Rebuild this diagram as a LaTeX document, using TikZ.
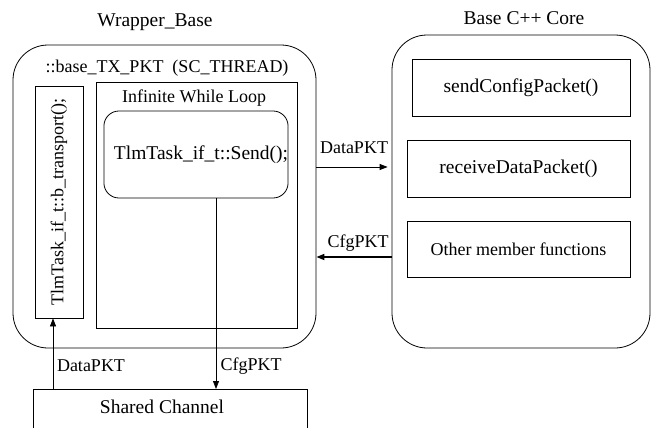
\documentclass[tikz,border=0pt]{standalone}
\usepackage{fontspec}
\setmainfont{Liberation Serif}
\usetikzlibrary{arrows.meta}
\begin{document}
\begin{tikzpicture}[
    x=1pt, y=-1pt,
    module/.style={
        rectangle,
        draw,
        rounded corners=35pt,
        line width=0.8pt
    },
    block/.style={
        rectangle,
        draw,
        line width=0.8pt,
        inner sep=0pt,
        align=center,
        font=\fontsize{18}{21}\selectfont
    },
    title/.style={
        font=\fontsize{19.5}{23}\selectfont
    },
    tag/.style={
        font=\fontsize{18}{21}\selectfont
    },
    arrow/.style={
        -{Triangle[length=8pt,width=6pt]},
        line width=0.8pt
    }
]

\clip (0,0) rectangle (656,428);

% Wrapper
\node[module, minimum width=303, minimum height=303] (wrapper) at (164.5,196.5) {};
\node[title] (wraptitle) at (155,22) {Wrapper\_Base};
\node[tag] (thread) at (167,68) {::base\_TX\_PKT\ \ (SC\_THREAD)};

% Trasporto
\node[block, minimum width=48, minimum height=232] (transport) at (59,202) {\rotatebox{90}{TlmTask\_if\_t::b\_transport();}};

% Ciclo
\node[block, minimum width=201, minimum height=246] (loop) at (196.5,205) {};
\node[tag] (looptitle) at (194,98) {Infinite While Loop};
\node[block, title, rounded corners=15pt, minimum width=182, minimum height=87] (send) at (196,154.5) {\hspace*{10pt}TlmTask\_if\_t::Send();};

% Canale
\node[block, minimum width=274, minimum height=60, anchor=north west] (channel) at (33,389) {};
\node[title] (channeltext) at (162,407) {Shared Channel};

% Core
\node[module, minimum width=258, minimum height=313] (core) at (521,191.5) {};
\node[title] (coretitle) at (524,18) {Base C++ Core};
\node[block, title, minimum width=218, minimum height=57] (sendcfg) at (521,87.5) {sendConfigPacket()};
\node[block, title, minimum width=223, minimum height=57] (recvdata) at (518.5,168.5) {receiveDataPacket()};
\node[block, minimum width=223, minimum height=56] (others) at (518.5,249) {Other member functions};

% Frecce
\coordinate (dpin) at ([xshift=-6pt]transport.south);
\coordinate (cfgout) at ([xshift=20pt]send.south);
\coordinate (dataout) at ([yshift=29.5pt]wrapper.east);
\coordinate (cfgin) at ([yshift=-65.5pt]core.west);

\draw[arrow] (dpin |- channel.north) -- (dpin);
\draw[arrow] (cfgout) -- (cfgout |- channel.north);
\node[tag] (dataup) at (91,366) {DataPKT};
\node[tag] (cfgdown) at (251,366) {CfgPKT};

\draw[arrow, shorten >=4pt] (dataout) -- node[tag, above=10pt] {DataPKT} (dataout -| core.west);
\draw[arrow, line width=1.6pt] (cfgin) -- node[tag, above=1pt, xshift=4pt] {CfgPKT} (cfgin -| wrapper.east);

\end{tikzpicture}
\end{document}
